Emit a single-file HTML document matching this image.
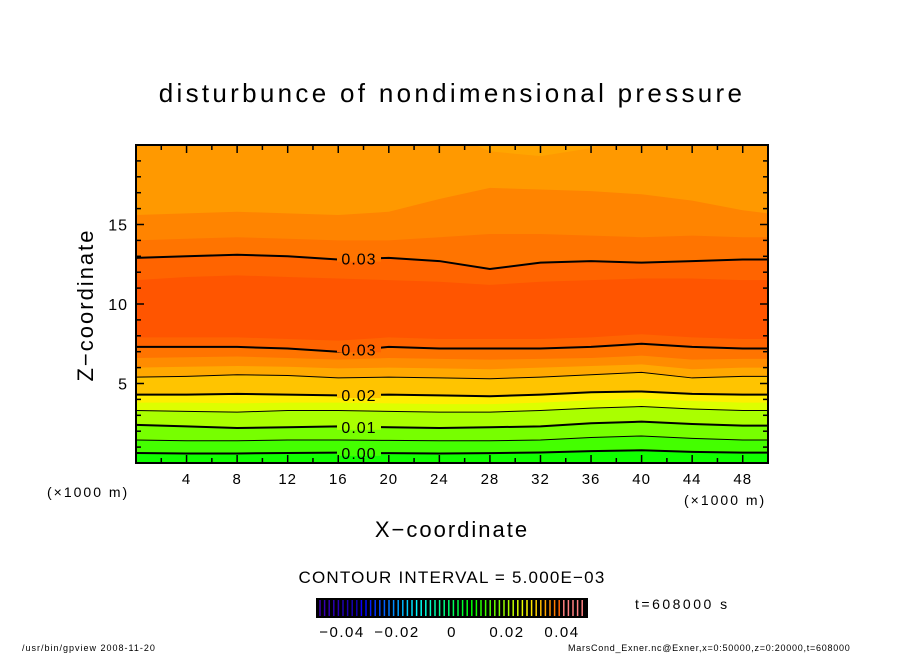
<!DOCTYPE html>
<html><head><meta charset="utf-8"><style>
body{margin:0;background:#fff;}
svg text{font-family:"Liberation Sans",sans-serif;}
</style></head><body>
<svg id="c" width="904" height="654" xmlns="http://www.w3.org/2000/svg">
<text x="452" y="102" font-size="26" text-anchor="middle" letter-spacing="3.3">disturbunce of nondimensional pressure</text>
<g id="fills"></g><g id="lines"></g><g id="axes"></g>
<text x="452" y="537" font-size="22" text-anchor="middle" letter-spacing="2">X−coordinate</text>
<text transform="translate(93,305) rotate(-90)" font-size="22" text-anchor="middle" letter-spacing="2">Z−coordinate</text>
<text x="47" y="497" font-size="14" letter-spacing="2">(×1000 m)</text>
<text x="684" y="505" font-size="14" letter-spacing="2">(×1000 m)</text>
<text x="452" y="583" font-size="17" text-anchor="middle" letter-spacing="1.2">CONTOUR INTERVAL = 5.000E−03</text>
<g id="cbar"></g>
<text x="635" y="609" font-size="14" letter-spacing="2.5">t=608000 s</text>
<text x="22" y="651" font-size="9" letter-spacing="1">/usr/bin/gpview  2008-11-20</text>
<text x="568" y="651" font-size="9" letter-spacing="0.75">MarsCond_Exner.nc@Exner,x=0:50000,z=0:20000,t=608000</text>
</svg>
<script>
const xs=[0,4,8,12,16,20,24,28,32,36,40,44,48,50];
const fillColors=["#11ff00","#44ff00","#77ff00","#aaff00","#ddff00","#ffee00","#ffc400","#ffa800","#ff8c00","#ff7400","#ff6400","#ff5500","#ff6400","#ff7400","#ff8400","#ff9900","#ffa500"];
const b0=[0,0,0,0,0,0,0,0,0,0,0,0,0,0];
const b1=[0.63,0.6,0.6,0.63,0.65,0.62,0.6,0.62,0.66,0.75,0.8,0.7,0.65,0.65];
const b2=[1.45,1.4,1.4,1.45,1.45,1.42,1.4,1.4,1.45,1.6,1.7,1.55,1.45,1.45];
const b3=[2.4,2.3,2.2,2.25,2.3,2.25,2.2,2.25,2.3,2.5,2.6,2.45,2.35,2.35];
const b4=[3.3,3.25,3.2,3.3,3.3,3.25,3.2,3.2,3.3,3.45,3.55,3.4,3.3,3.3];
const b5=[3.8,3.8,3.75,3.8,3.8,3.75,3.7,3.7,3.8,3.95,4.05,3.9,3.8,3.8];
const b6=[4.3,4.3,4.35,4.3,4.25,4.3,4.25,4.2,4.3,4.45,4.5,4.35,4.3,4.3];
const b7=[5.4,5.45,5.55,5.5,5.35,5.4,5.35,5.3,5.4,5.55,5.7,5.35,5.45,5.45];
const b8=[6.0,6.05,6.1,6.05,5.95,6.0,5.95,5.9,6.0,6.1,6.2,5.9,6.0,6.0];
const b9=[6.6,6.65,6.7,6.6,6.5,6.6,6.55,6.5,6.55,6.6,6.75,6.5,6.55,6.55];
const b10=[7.3,7.3,7.3,7.2,7.0,7.3,7.2,7.2,7.2,7.3,7.5,7.3,7.2,7.2];
const b11=[7.9,7.9,7.9,7.8,7.7,7.9,7.8,7.8,7.8,7.9,8.1,7.9,7.8,7.8];
const b12=[11.5,11.7,11.8,11.7,11.6,11.5,11.4,11.2,11.4,11.5,11.6,11.6,11.5,11.5];
const b13=[12.9,13.0,13.1,13.0,12.8,12.9,12.7,12.2,12.6,12.7,12.6,12.7,12.8,12.8];
const b14=[14.0,14.1,14.2,14.1,14.0,14.0,14.2,14.4,14.4,14.3,14.2,14.3,14.2,14.2];
const b15=[15.6,15.7,15.8,15.7,15.6,15.8,16.6,17.3,17.2,17.1,16.9,16.5,15.9,15.7];
const b16=[21,21,21,21,21,21,21,19.6,19.3,19.8,21,21,21,21];
const fillBounds=[b0,b1,b2,b3,b4,b5,b6,b7,b8,b9,b10,b11,b12,b13,b14,b15,b16];
const lineIdx=[1,2,3,4,6,7,10,13];
const lineW=[2,1,2,1,2,1,2,2];
const lineLabels=["0.00","","0.01","","0.02","","0.03","0.03"];
const xTicks=[4,8,12,16,20,24,28,32,36,40,44,48];
const yTicks=[5,10,15];
const cbarTicks=["−0.04","−0.02","0","0.02","0.04"];
const cbarTickVals=[-0.04,-0.02,0,0.02,0.04];

const L=136,R=768,T=145,B=463,NS="http://www.w3.org/2000/svg";
const sx=v=>L+v/50*(R-L), sy=v=>B-v/20*(B-T);
function mk(tag,at,par){const e=document.createElementNS(NS,tag);for(const k in at)e.setAttribute(k,at[k]);par.appendChild(e);return e;}
const fills=document.getElementById('fills'),lines=document.getElementById('lines'),axes=document.getElementById('axes');
const clip=mk('clipPath',{id:'pc'},document.getElementById('c'));
mk('rect',{x:L,y:T,width:R-L,height:B-T},clip);
fills.setAttribute('clip-path','url(#pc)');
fillBounds.forEach((b,i)=>{
  let d='M'+xs.map((x,j)=>sx(x)+','+sy(b[j])).join(' L')+' L'+R+','+(T-30)+' L'+L+','+(T-30)+'Z';
  const p=mk('path',{d:d,fill:fillColors[i]},fills);
  
  
});
lineIdx.forEach((bi,k)=>{
  const b=fillBounds[bi];
  const p=mk('polyline',{points:xs.map((x,j)=>sx(x)+','+sy(b[j])).join(' '),fill:'none',stroke:'#000','stroke-width':lineW[k]},lines);
  
  
  if(lineLabels[k]){
    const yy=sy((b[4]+b[5])/2);
    mk('rect',{x:337,y:yy-3,width:44,height:6,fill:fillColors[bi]},lines);
    const t=mk('text',{x:359,y:yy+6,'font-size':16,'text-anchor':'middle','letter-spacing':1},lines);
    t.textContent=lineLabels[k];
    
    
  }
});
mk('rect',{x:L,y:T,width:R-L,height:B-T,fill:'none',stroke:'#000','stroke-width':2},axes);
for(let v=2;v<50;v+=2){const len=v%4==0?8:5;
  mk('line',{x1:sx(v),y1:B,x2:sx(v),y2:B-len,stroke:'#000','stroke-width':1.5},axes);
  mk('line',{x1:sx(v),y1:T,x2:sx(v),y2:T+len,stroke:'#000','stroke-width':1.5},axes);}
for(let v=1;v<20;v++){const len=v%5==0?8:5;
  mk('line',{x1:L,y1:sy(v),x2:L+len,y2:sy(v),stroke:'#000','stroke-width':1.5},axes);
  mk('line',{x1:R,y1:sy(v),x2:R-len,y2:sy(v),stroke:'#000','stroke-width':1.5},axes);}
xTicks.forEach(v=>{const t=mk('text',{x:sx(v),y:484,'font-size':15,'text-anchor':'middle','letter-spacing':1},axes);t.textContent=v;
  });
yTicks.forEach(v=>{const t=mk('text',{x:128,y:sy(v)+6,'font-size':16,'text-anchor':'end','letter-spacing':1},axes);t.textContent=v;
  });
const cb=document.getElementById('cbar');
mk('rect',{x:316,y:598,width:272,height:20,fill:'#000'},cb);
const n=58;
for(let i=0;i<n;i++){const f=i/(n-1);
  const col=f>0.92?'hsl(0,100%,75%)':'hsl('+(f<0.15?260-f*100:Math.max(0,245-(f-0.15)*290))+',100%,'+(f<0.15?35:50)+'%)';
  mk('line',{x1:320+i*4.6,y1:600,x2:320+i*4.6,y2:616,stroke:col,'stroke-width':1.5},cb);}
const cx=v=>452+v/0.02*55;
cbarTicks.forEach((s,i)=>{const t=mk('text',{x:cx(cbarTickVals[i]),y:637,'font-size':15,'text-anchor':'middle','letter-spacing':1.5},cb);t.textContent=s;
  });
</script>
</body></html>
